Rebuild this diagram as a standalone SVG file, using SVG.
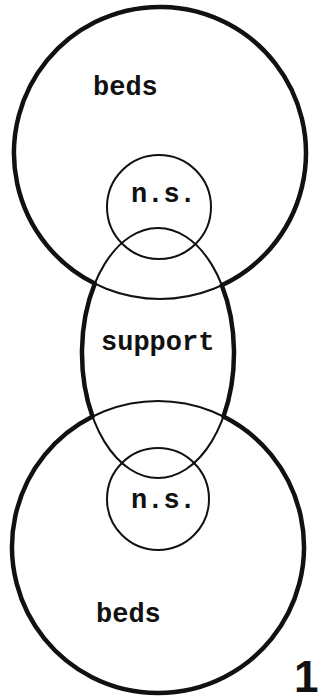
<svg xmlns="http://www.w3.org/2000/svg" width="321" height="700" viewBox="0 0 321 700">
  <style>
    .thin { fill: none; stroke: #111; stroke-width: 2; }
    .thick { fill: none; stroke: #111; stroke-width: 4.5; stroke-linejoin: round; }
    .lbl { font-family: "Liberation Mono", "DejaVu Sans Mono", monospace; font-size: 27px; font-weight: bold; fill: #111; }
    .num { font-family: "Liberation Sans", Arial, sans-serif; font-size: 44px; font-weight: bold; fill: #111; }
  </style>
  <rect x="0" y="0" width="321" height="700" fill="#fff"/>
  <g id="beds-top">
    <circle class="thin" cx="160" cy="153" r="146"/>
    <text class="lbl" x="93" y="95">beds</text>
  </g>
  <g id="ns-top">
    <circle class="thin" cx="159" cy="207" r="52"/>
    <text class="lbl" x="131" y="202">n.s.</text>
  </g>
  <g id="support">
    <ellipse class="thin" cx="158" cy="353" rx="76" ry="125"/>
    <text class="lbl" x="101" y="350">support</text>
  </g>
  <g id="ns-bottom">
    <circle class="thin" cx="158" cy="499" r="51"/>
    <text class="lbl" x="131" y="508">n.s.</text>
  </g>
  <g id="beds-bottom">
    <circle class="thin" cx="158" cy="547" r="146"/>
    <text class="lbl" x="96" y="622">beds</text>
  </g>
  <g id="outline">
    <path class="thick" d="M 94.8 283.6 A 146 146 0 1 1 221.8 285.2 A 76 125 0 0 1 223.5 416.5 A 146 146 0 1 1 92.5 416.5 A 76 125 0 0 1 94.8 283.6 Z"/>
  </g>
  <g id="figure-number">
    <text class="num" x="294" y="692">1</text>
  </g>
</svg>
